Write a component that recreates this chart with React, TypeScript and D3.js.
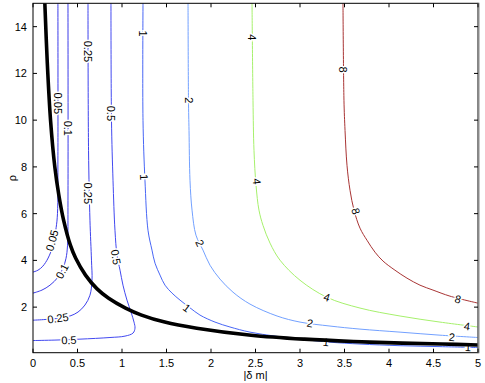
import React from 'react';
import * as d3 from 'd3';

// axis ticks
const xTicks = [0, 0.5, 1, 1.5, 2, 2.5, 3, 3.5, 4, 4.5, 5];
const yTicks = [2, 4, 6, 8, 10, 12, 14];

// contour lines, points are [|δm|, ρ]
const c005 = [[0.28, 15], [0.28, 8.5], [0.275, 6.0], [0.26, 5.4], [0.225, 4.65], [0.17, 4.1], [0.11, 3.75], [0.056, 3.58], [0, 3.5]];
const c01 = [[0.393, 15], [0.393, 6.57], [0.388, 4.65], [0.371, 4.09], [0.337, 3.67], [0.281, 3.28], [0.191, 2.94], [0.101, 2.73], [0, 2.6]];
const c025 = [[0.618, 15], [0.624, 8.71], [0.64, 5.72], [0.657, 4.01], [0.663, 3.15], [0.64, 2.51], [0.584, 2.09], [0.506, 1.79], [0.416, 1.62], [0.303, 1.53], [0.135, 1.47], [0, 1.44]];
const c05 = [[0.876, 15], [0.882, 9.99], [0.899, 7.43], [0.921, 5.29], [0.944, 4.22], [0.978, 3.58], [1.011, 2.94], [1.056, 2.3], [1.101, 1.79], [1.135, 1.36], [1.146, 1.1], [1.124, 0.89], [1.034, 0.76], [0.865, 0.7], [0.528, 0.63], [0.247, 0.59], [0, 0.57]];
const c1 = [[1.236, 15], [1.236, 9.99], [1.258, 7.43], [1.292, 5.29], [1.337, 4.44], [1.371, 3.88], [1.427, 3.37], [1.483, 2.94], [1.562, 2.6], [1.652, 2.3], [1.764, 1.97], [1.876, 1.66], [2.045, 1.36], [2.213, 1.15], [2.438, 0.93], [2.719, 0.76], [3.0, 0.63], [3.337, 0.5], [3.674, 0.42], [4.124, 0.35], [4.573, 0.31], [5, 0.27]];
const c2 = [[1.742, 15], [1.747, 10.85], [1.753, 9.56], [1.764, 7.43], [1.787, 6.15], [1.831, 5.08], [1.91, 4.44], [1.989, 3.79], [2.101, 3.2], [2.247, 2.64], [2.438, 2.13], [2.742, 1.62], [3.0, 1.36], [3.337, 1.19], [3.674, 1.06], [4.124, 0.93], [4.573, 0.8], [5, 0.7]];
const c4 = [[2.461, 15], [2.472, 10.85], [2.483, 8.71], [2.506, 7.21], [2.539, 6.15], [2.584, 5.5], [2.663, 4.74], [2.775, 4.01], [3.0, 3.15], [3.303, 2.42], [3.674, 1.96], [4.124, 1.62], [4.573, 1.36], [5, 1.15]];
const c8 = [[3.483, 15], [3.494, 10.85], [3.506, 9.56], [3.528, 8.07], [3.562, 7.0], [3.607, 6.15], [3.674, 5.38], [3.753, 4.86], [3.843, 4.35], [3.933, 3.97], [4.067, 3.58], [4.202, 3.24], [4.348, 2.94], [4.494, 2.73], [4.685, 2.47], [5, 2.17]];

// thick black boundary curve
const boundary = [[0.133, 15], [0.16, 12.5], [0.197, 10], [0.245, 8], [0.29, 6.8], [0.345, 5.7], [0.42, 4.65], [0.48, 4.09], [0.59, 3.37], [0.72, 2.78], [0.85, 2.38], [1.04, 1.96], [1.22, 1.66], [1.48, 1.36], [1.84, 1.1], [2.45, 0.8], [3.05, 0.63], [3.6, 0.53], [4.15, 0.46], [4.6, 0.42], [5, 0.38]];

// inline contour labels: [text, |δm|, ρ, angle]
const labels: [string, number, number, number][] = [
  ['0.05', 0.281, 10.72, 90], ['0.1', 0.393, 9.65, 90], ['0.25', 0.618, 12.94, 90], ['0.25', 0.618, 6.87, 90],
  ['0.5', 0.876, 10.29, 90], ['0.5', 0.933, 4.14, 80], ['1', 1.236, 13.71, 90], ['1', 1.247, 7.56, 88],
  ['1', 1.73, 1.97, 37], ['1', 3.292, 0.5, 6], ['1', 4.888, 0.29, 3],
  ['2', 1.753, 10.85, 90], ['2', 1.876, 4.74, 65], ['2', 3.112, 1.32, 10], ['2', 4.708, 0.72, 5],
  ['4', 2.461, 13.54, 90], ['4', 2.517, 7.38, 85], ['4', 3.303, 2.43, 18], ['4', 4.876, 1.19, 7],
  ['8', 3.483, 12.17, 90], ['8', 3.629, 6.1, 75], ['8', 4.775, 2.34, 14],
  ['0.05', 0.213, 4.86, -75], ['0.1', 0.326, 3.54, -62], ['0.25', 0.281, 1.53, -8], ['0.5', 0.404, 0.59, -2],
];

const contourLines = [c005, c01, c025, c05, c1, c2, c4, c8];
const contourColors = ['#3c3ce8', '#3c3ce8', '#3e42ec', '#4249f0', '#4866f5', '#72a0ff', '#a6f06c', '#a83434'];

const W = 485;
const H = 383;
const L = 33, R = 478, T = 3.3, B = 352.7;

export default function App() {
  const x = d3.scaleLinear().domain([0, 5]).range([L, R]);
  const y = d3.scaleLinear().domain([0.05, 15]).range([B, T]);
  const line = d3.line<number[]>()
    .x(d => x(d[0]))
    .y(d => y(d[1]))
    .curve(d3.curveCatmullRom.alpha(0.5));
  const font = '"Liberation Sans", Arial, Helvetica, sans-serif';

  return (
    <svg width={W} height={H} style={{ position: 'absolute', left: 0, top: 0, background: '#fff' }} fontFamily={font}>
      <defs>
        <clipPath id="plot">
          <rect x={L} y={T} width={R - L} height={B - T} />
        </clipPath>
      </defs>
      <g clipPath="url(#plot)">
        {contourLines.map((pts, i) => (
          <path key={i} d={line(pts) || ''} fill="none" stroke={contourColors[i]} strokeWidth={1} />
        ))}
        {labels.map(([t, lx, ly, a], i) => (
          <text key={i} x={x(lx)} y={y(ly)} transform={`rotate(${a},${x(lx)},${y(ly)})`}
            textAnchor="middle" dominantBaseline="central" fontSize={11}
            stroke="#fff" strokeWidth={3} paintOrder="stroke" fill="#000">{t}</text>
        ))}
        <path d={line(boundary) || ''} fill="none" stroke="#000" strokeWidth={3.6} />
      </g>
      {/* axes box */}
      <rect x={L} y={T} width={R - L} height={B - T} fill="none" stroke="#000" strokeWidth={1} />
      <line x1={R + 0.5} x2={R + 0.5} y1={T - 0.5} y2={B + 0.5} stroke="#8a8a8a" strokeWidth={2} />
      {xTicks.map(t => (
        <g key={'x' + t}>
          <line x1={x(t)} x2={x(t)} y1={B} y2={B - 4} stroke="#000" />
          <line x1={x(t)} x2={x(t)} y1={T} y2={T + 4} stroke="#000" />
          <text x={x(t)} y={B + 14} textAnchor="middle" fontSize={11} fill="#000">{t}</text>
        </g>
      ))}
      {yTicks.map(t => (
        <g key={'y' + t}>
          <line x1={L} x2={L + 4} y1={y(t)} y2={y(t)} stroke="#000" />
          <line x1={R} x2={R - 4} y1={y(t)} y2={y(t)} stroke="#000" />
          <text x={L - 6} y={y(t)} textAnchor="end" dominantBaseline="central" fontSize={11} fill="#000">{t}</text>
        </g>
      ))}
      <text x={(L + R) / 2} y={B + 26} textAnchor="middle" fontSize={11} fill="#000">|δ m|</text>
      <text x={12} y={(T + B) / 2} transform={`rotate(-90,12,${(T + B) / 2})`} textAnchor="middle"
        dominantBaseline="central" fontSize={11} fill="#000">ρ</text>
    </svg>
  );
}
